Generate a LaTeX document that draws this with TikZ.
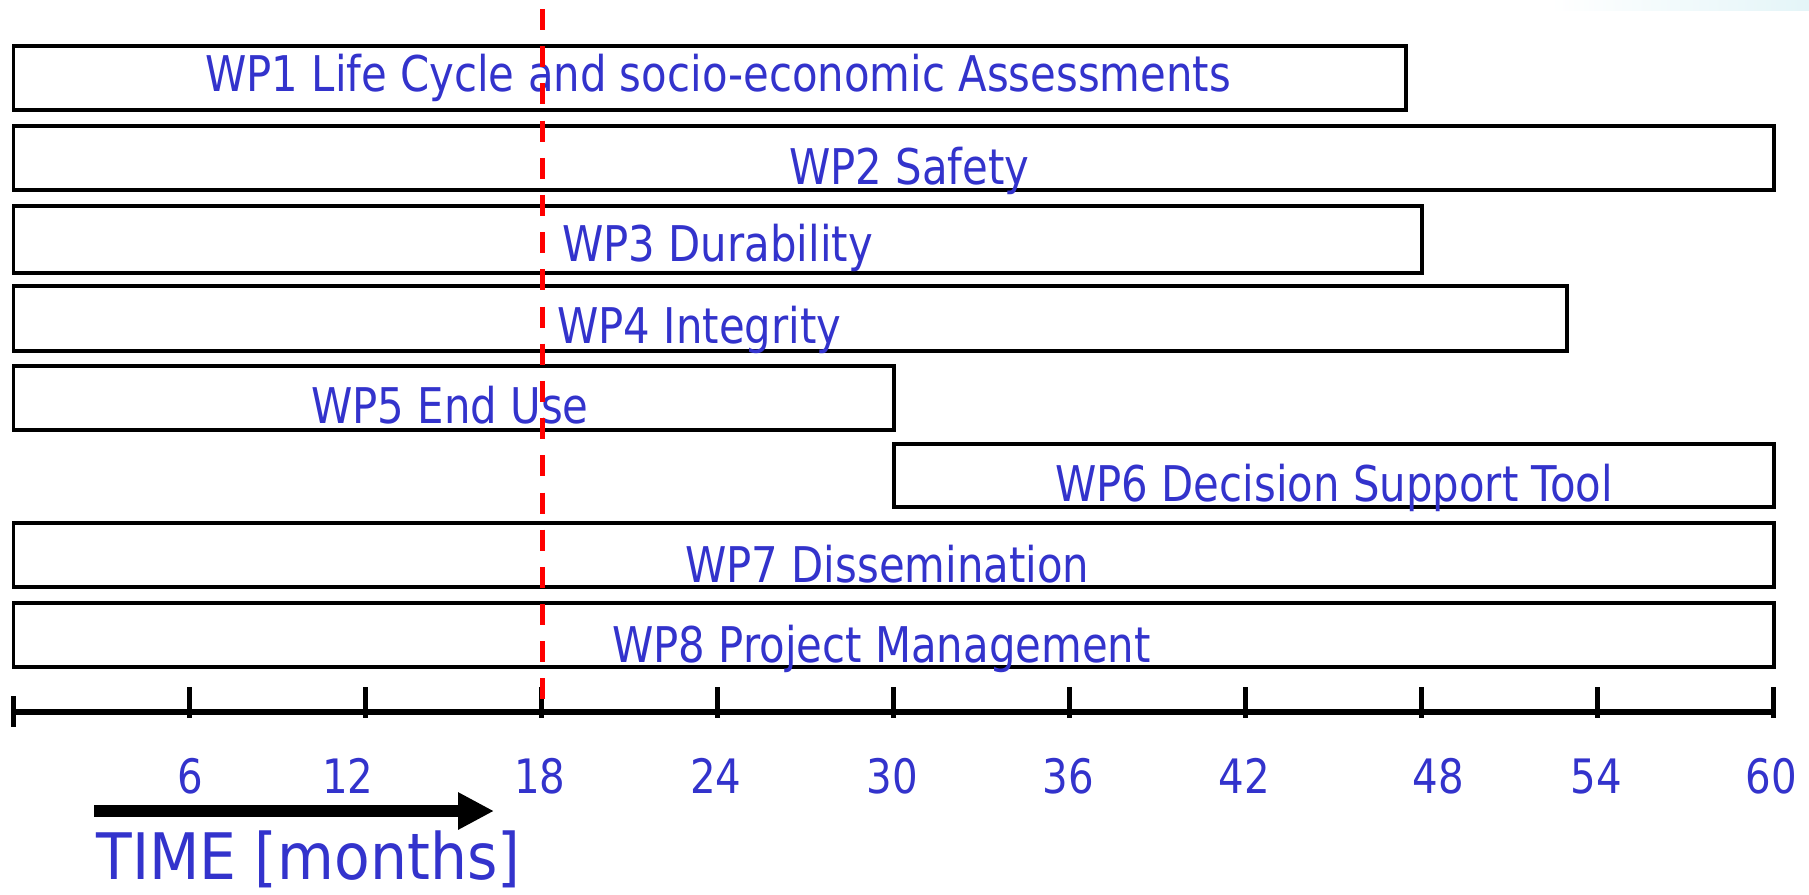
\documentclass[tikz,border=0pt]{standalone}
\usepackage{fontspec}
\setmainfont[FakeStretch=0.85]{DejaVu Sans}
\newfontfamily\timefont[FakeStretch=0.91]{DejaVu Sans}
\usetikzlibrary{arrows.meta}

\definecolor{wpblue}{RGB}{51,51,204}

\tikzset{
  wpbox/.style={draw=black, line width=0.065cm},
  wplabel/.style={anchor=base west, inner sep=0pt, text=wpblue, font=\fontsize{28pt}{30pt}\selectfont},
  monthlabel/.style={anchor=base, inner sep=0pt, text=wpblue, font=\fontsize{27pt}{30pt}\selectfont},
  timelabel/.style={anchor=base west, inner sep=0pt, text=wpblue, font=\timefont\fontsize{36.5pt}{40pt}\selectfont},
  axisline/.style={draw=black, line width=0.11cm},
  tickline/.style={draw=black, line width=0.1cm},
  redline/.style={draw=red, line width=0.1cm, dash pattern=on 0.42cm off 0.324cm},
  timearrow/.style={draw=black, line width=0.254cm, -{Triangle[length=0.72cm, width=0.7cm]}}
}

\begin{document}
\begin{tikzpicture}[x=0.02cm, y=-0.02cm]
\useasboundingbox[fill=white] (0,0) rectangle (1809,894);
\shade[left color=white, right color={rgb,255:red,228;green,245;blue,248}] (1550,0) rectangle (1809,10);

\begin{scope}[every path/.style={wpbox}]
    \draw (13.5,46) rectangle (1406,110);
    \draw (13.5,126) rectangle (1774,190);
    \draw (13.5,206) rectangle (1422,273);
    \draw (13.5,286) rectangle (1567,351);
    \draw (13.5,366) rectangle (894,430);
    \draw (894,444) rectangle (1774,507);
    \draw (13.5,523) rectangle (1774,587);
    \draw (13.5,603) rectangle (1774,667);
\end{scope}

\begin{scope}[every node/.style={wplabel}]
    \node (wp1) at (205,91) {WP1 Life Cycle and socio-economic Assessments};
    \node (wp2) at (789,184) {WP2 Safety};
    \node (wp3) at (562,261) {WP3 Durability};
    \node (wp4) at (557,343) {WP4 Integrity};
    \node (wp5) at (311,423) {WP5 End Use};
    \node (wp6) at (1055,501) {WP6 Decision Support Tool};
    \node (wp7) at (685,582) {WP7 Dissemination};
    \node (wp8) at (612,662) {WP8 Project Management};
\end{scope}

\draw[axisline] (13.5,712) -- (1774,712);
\draw[tickline] (13.5,696) -- (13.5,727);
\foreach \m in {6,12,...,60}
    \draw[tickline] ({13.5+29.34*\m},687) -- ++(0,31);

\foreach \m/\x in {6/190,12/348,18/540,24/716,30/892,36/1068,42/1244,48/1438,54/1596,60/1771}
    \node[monthlabel] (m\m) at (\x,793) {\m};

\coordinate (rtop) at (542,9);
\coordinate (rbot) at (542,702);
\draw[redline] (rtop) -- (rbot);

\coordinate (tstart) at (94,811);
\coordinate (tend) at (494,811);
\draw[timearrow] (tstart) -- (tend);
\node[timelabel] (time) at (96,879) {TIME [months]};

\end{tikzpicture}
\end{document}
